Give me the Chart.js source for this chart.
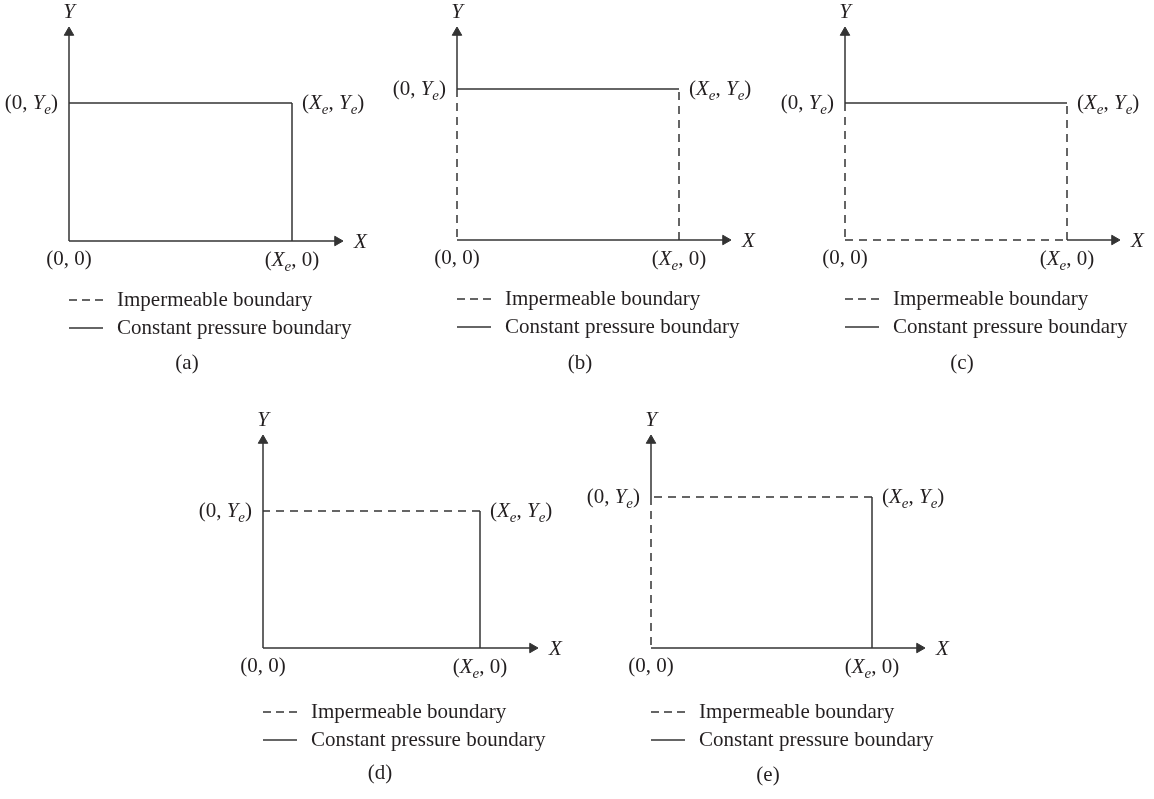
<!DOCTYPE html>
<html>
<head>
<meta charset="utf-8">
<script src="https://cdn.jsdelivr.net/npm/chart.js@4.4.0/dist/chart.umd.min.js"></script>
<style>
  html, body { margin: 0; padding: 0; background: #fff; }
  body { width: 1154px; height: 799px; position: relative; overflow: hidden; }
  canvas { position: absolute; }
</style>
</head>
<body>
<script>
/* corners of the reservoir, in units of Xe and Ye (bottom-left, bottom-right, top-right, top-left) */
const cornerX = [0, 1, 1, 0];
const cornerY = [0, 0, 1, 1];
const cornerLabels = ["(0, 0)", "(X_e, 0)", "(X_e, Y_e)", "(0, Y_e)"];

/* boundary type of each side per panel: I = impermeable, C = constant pressure */
const panelNames = ["(a)", "(b)", "(c)", "(d)", "(e)"];
const bottomType = ["C", "C", "I", "C", "C"];
const rightType  = ["C", "I", "I", "C", "C"];
const topType    = ["C", "C", "C", "I", "I"];
const leftType   = ["C", "I", "I", "C", "I"];

const legendLabels = ["Impermeable boundary", "Constant pressure boundary"];
const axisNames = ["X", "Y"];

/* page layout, pixels */
const layout = [
  { ox: 69,  oy: 241, w: 223, h: 138, xTip: 343, yTip: 27,  legY: 59, capX: 118, capY: 122 },
  { ox: 457, oy: 240, w: 222, h: 151, xTip: 731, yTip: 27,  legY: 59, capX: 123, capY: 123 },
  { ox: 845, oy: 240, w: 222, h: 137, xTip: 1120, yTip: 27, legY: 59, capX: 117, capY: 123 },
  { ox: 263, oy: 648, w: 217, h: 137, xTip: 538, yTip: 435, legY: 64, capX: 117, capY: 125 },
  { ox: 651, oy: 648, w: 221, h: 151, xTip: 925, yTip: 435, legY: 64, capX: 117, capY: 127 }
];

const FONT = '"Liberation Serif", "Times New Roman", serif';
const SIZE = 21;
const INK = "#231f20";
const LINE = "#333333";
const DASH = [8, 6];
const R = 5.5; // arrow head radius

// split "(X_e, Y_e)" into runs: X/Y italic, _e italic subscript
function runs(str) {
  const out = [];
  for (let i = 0; i < str.length; i++) {
    const c = str[i];
    if (c === "_") { out.push({ t: str[i + 1], it: true, sub: true }); i++; }
    else if (c === "X" || c === "Y") out.push({ t: c, it: true });
    else {
      const last = out[out.length - 1];
      if (last && !last.it) last.t += c; else out.push({ t: c });
    }
  }
  return out;
}
function fontOf(p) {
  return (p.it ? "italic " : "") + (p.sub ? Math.round(SIZE * 0.7) : SIZE) + "px " + FONT;
}
function drawRich(ctx, str, x, y, align) {
  const ps = runs(str);
  let total = 0;
  ps.forEach(p => { ctx.font = fontOf(p); p.w = ctx.measureText(p.t).width; total += p.w; });
  let cx = align === "right" ? x - total : align === "center" ? x - total / 2 : x;
  ctx.textAlign = "left";
  ctx.textBaseline = "alphabetic";
  ctx.fillStyle = INK;
  ps.forEach(p => {
    ctx.font = fontOf(p);
    ctx.fillText(p.t, cx, y + 6 + (p.sub ? 5 : 0));
    cx += p.w;
  });
}

layout.forEach((L, k) => {
  const left = L.ox - 75, top = L.yTip - 30;
  const width = L.w + 175, height = L.oy + 145 - top;
  const cv = document.createElement("canvas");
  cv.width = width; cv.height = height;
  cv.style.left = left + "px"; cv.style.top = top + "px";
  document.body.appendChild(cv);

  const xMin = (left - L.ox) / L.w, xMax = (left + width - L.ox) / L.w;
  const yMax = (L.oy - top) / L.h, yMin = yMax - height / L.h;
  const xEnd = (L.xTip - R - L.ox) / L.w;
  const yEnd = (L.oy - L.yTip - R) / L.h;

  const types = [bottomType[k], rightType[k], topType[k], leftType[k]];
  const datasets = types.map((t, i) => ({
    data: [{ x: cornerX[i], y: cornerY[i] }, { x: cornerX[(i + 1) % 4], y: cornerY[(i + 1) % 4] }],
    showLine: true,
    borderColor: LINE,
    borderWidth: 1.5,
    borderDash: t === "I" ? DASH : [],
    pointRadius: 0
  }));
  // axes with arrow heads
  datasets.push({
    data: [{ x: cornerX[1], y: 0 }, { x: xEnd, y: 0 }],
    showLine: true, borderColor: LINE, borderWidth: 1.5,
    pointRadius: [0, R], pointStyle: "triangle", pointRotation: 90,
    pointBackgroundColor: LINE, pointBorderColor: LINE, pointBorderWidth: 1
  });
  datasets.push({
    data: [{ x: 0, y: cornerY[3] }, { x: 0, y: yEnd }],
    showLine: true, borderColor: LINE, borderWidth: 1.5,
    pointRadius: [0, R], pointStyle: "triangle", pointRotation: 0,
    pointBackgroundColor: LINE, pointBorderColor: LINE, pointBorderWidth: 1
  });

  const labels = {
    id: "labels" + k,
    afterDraw(chart) {
      const ctx = chart.ctx;
      const sx = chart.scales.x, sy = chart.scales.y;
      const px = v => sx.getPixelForValue(v), py = v => sy.getPixelForValue(v);
      ctx.save();
      // corner labels
      drawRich(ctx, cornerLabels[0], px(cornerX[0]), py(cornerY[0]) + 18, "center");
      drawRich(ctx, cornerLabels[1], px(cornerX[1]), py(cornerY[1]) + 19, "center");
      drawRich(ctx, cornerLabels[2], px(cornerX[2]) + 10, py(cornerY[2]), "left");
      drawRich(ctx, cornerLabels[3], px(cornerX[3]) - 11, py(cornerY[3]), "right");
      // axis names
      drawRich(ctx, axisNames[0], px(xEnd) + R + 11, py(0) + 1, "left");
      drawRich(ctx, axisNames[1], px(0), py(yEnd) - R - 15, "center");
      // legend
      const lx = px(0), ly = py(0) + L.legY;
      ctx.strokeStyle = LINE;
      ctx.lineWidth = 1.5;
      [[8, 5], []].forEach((d, i) => {
        ctx.setLineDash(d);
        ctx.beginPath();
        ctx.moveTo(lx, ly + i * 28);
        ctx.lineTo(lx + 34, ly + i * 28);
        ctx.stroke();
        drawRich(ctx, legendLabels[i], lx + 48, ly + i * 28, "left");
      });
      ctx.setLineDash([]);
      // caption
      drawRich(ctx, panelNames[k], lx + L.capX, py(0) + L.capY, "center");
      ctx.restore();
    }
  };

  new Chart(cv, {
    type: "scatter",
    data: { datasets },
    options: {
      responsive: false,
      animation: false,
      events: [],
      layout: { padding: 0, autoPadding: false },
      scales: {
        x: { type: "linear", display: false, min: xMin, max: xMax },
        y: { type: "linear", display: false, min: yMin, max: yMax }
      },
      plugins: { legend: { display: false }, tooltip: { enabled: false } }
    },
    plugins: [labels]
  });
});
</script>
</body>
</html>
